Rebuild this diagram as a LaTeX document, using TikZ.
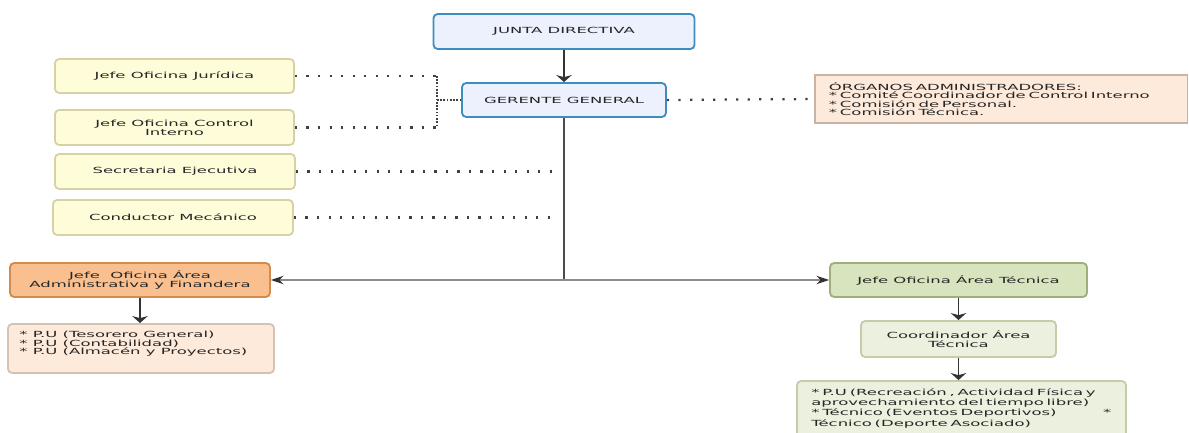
\documentclass[tikz,border=0pt]{standalone}
\usepackage{fontspec}
\setmainfont[FakeStretch=1.95]{DejaVu Sans}
\usetikzlibrary{arrows.meta}

\definecolor{juntafill}{HTML}{EDF1FD}
\definecolor{juntaline}{HTML}{3F8DBF}
\definecolor{stafffill}{HTML}{FFFDD9}
\definecolor{staffline}{HTML}{D6D2A6}
\definecolor{adminfill}{HTML}{F9BF8F}
\definecolor{adminline}{HTML}{D38B4E}
\definecolor{notefill}{HTML}{FDEADA}
\definecolor{noteline}{HTML}{C9B3A3}
\definecolor{tecfill}{HTML}{D7E4BD}
\definecolor{tecline}{HTML}{9EAF7C}
\definecolor{subfill}{HTML}{EBF1DE}
\definecolor{subline}{HTML}{C3CDA8}

\tikzset{
    orgbox/.style={draw, rounded corners=3pt, line width=1.3pt, minimum height=0.85cm,
        align=center, text=black!85, font=\fontsize{6}{6.4}\selectfont},
    juntabox/.style={orgbox, fill=juntafill, draw=juntaline},
    staffbox/.style={orgbox, fill=stafffill, draw=staffline},
    adminbox/.style={orgbox, fill=adminfill, draw=adminline},
    tecbox/.style={orgbox, fill=tecfill, draw=tecline},
    subbox/.style={orgbox, fill=subfill, draw=subline},
    notebox/.style={draw=noteline, fill=notefill, line width=0.8pt, minimum width=9.3cm,
        minimum height=1.2cm, text width=8.6cm, inner xsep=0.35cm, align=left,
        text=black!85, font=\fontsize{6}{6}\selectfont},
    listtext/.style={inner sep=0pt, anchor=north west, align=left, text=black!85},
    sparsedots/.style={draw=black!75, line width=1.6pt, dash pattern=on 1.6pt off 6.6pt},
    densedots/.style={draw=black!75, line width=1.5pt, dash pattern=on 1.2pt off 1.1pt},
    downarrow/.style={draw=black!80, line width=1.3pt, -{Stealth[length=5pt, width=11pt, inset=1.5pt]}},
    sidearrow/.style={draw=black!45, line width=1pt, -{Stealth[length=9pt, width=6pt, color=black!80]}},
    trunk/.style={draw=black!70, line width=1.4pt}
}

\begin{document}
\begin{tikzpicture}[x=0.025cm, y=-0.025cm]
    \useasboundingbox (0,0) rectangle (1189,433);
    % Board and manager
    \node[juntabox, minimum width=6.525cm, minimum height=0.875cm] (junta) at (564,31.5) {JUNTA DIRECTIVA};
    \node[juntabox, minimum width=5.1cm] (gerente) at (564,100) {GERENTE GENERAL};
    % Staff offices
    \node[staffbox, minimum width=5.975cm] (juridica) at (174.5,76) {Jefe Oficina Jurídica};
    \node[staffbox, minimum width=5.975cm, minimum height=0.875cm] (control) at (174.5,127.5) {Jefe Oficina Control\\Interno};
    \node[staffbox, minimum width=6cm, minimum height=0.875cm] (secretaria) at (175,171.5) {Secretaria Ejecutiva};
    \node[staffbox, minimum width=6cm, minimum height=0.875cm] (conductor) at (173,217.5) {Conductor Mecánico};
    % Committees
    \node[notebox] (organos) at (1001,99) {ÓRGANOS ADMINISTRADORES:\\{*} Comité Coordinador de Control Interno\\{*} Comisión de Personal.\\{*} Comisión Técnica.};
    % Administrative area
    \node[adminbox, minimum width=6.5cm] (admin) at (140,280) {Jefe\ \ Oficina Área\\Administrativa y Finandera};
    \node[orgbox, fill=notefill, draw=noteline!80, minimum width=6.65cm, minimum height=1.225cm] (pu) at (141,348.5) {};
    \node[listtext, font=\fontsize{6}{6.1}\selectfont] (putext) at ([shift={(12,8)}]pu.north west)
        {{*} P.U (Tesorero General)\\{*} P.U (Contabilidad)\\{*} P.U (Almacén y Proyectos)};
    % Technical area
    \node[tecbox, minimum width=6.425cm] (tecnica) at (958.5,280) {Jefe Oficina Área Técnica};
    \node[subbox, minimum width=4.875cm, minimum height=0.9cm] (coord) at (958.5,339) {Coordinador Área\\Técnica};
    \node[subbox, minimum width=8.225cm, minimum height=1.75cm] (tecpu) at (961.5,416) {};
    \node[listtext, text width=7.5cm, font=\fontsize{6}{7.4}\selectfont] (tecputext) at ([shift={(15,8)}]tecpu.north west)
        {{*} P.U (Recreación , Actividad Física y\\aprovechamiento del tiempo libre)\\{*} Técnico (Eventos Deportivos)\hfill {*}\\Técnico (Deporte Asociado)};
    % Dotted links
    \coordinate (brk) at (437,100);
    \draw[sparsedots] (juridica.east) -- (juridica.east -| brk);
    \draw[sparsedots] (control.east) -- (control.east -| brk);
    \draw[densedots] (juridica.east -| brk) -- (control.east -| brk);
    \draw[densedots] (brk) -- (gerente.west);
    \coordinate (secend) at (553,171.5);
    \coordinate (condend) at (553,217.5);
    \draw[sparsedots] (secretaria.east) -- (secend);
    \draw[sparsedots] (conductor.east) -- (condend);
    \draw[sparsedots] (gerente.east) -- (organos.west);
    % Solid links
    \draw[downarrow] (junta.south) -- (gerente.north);
    \coordinate (split) at (gerente.south |- admin.east);
    \draw[trunk] (gerente.south) -- (split);
    \draw[sidearrow] (split) -- (admin.east);
    \draw[sidearrow] (split) -- (tecnica.west);
    \draw[downarrow] (admin.south) -- (admin.south |- pu.north);
    \draw[downarrow] (tecnica.south) -- (coord.north);
    \draw[downarrow] (coord.south) -- (coord.south |- tecpu.north);
\end{tikzpicture}
\end{document}
